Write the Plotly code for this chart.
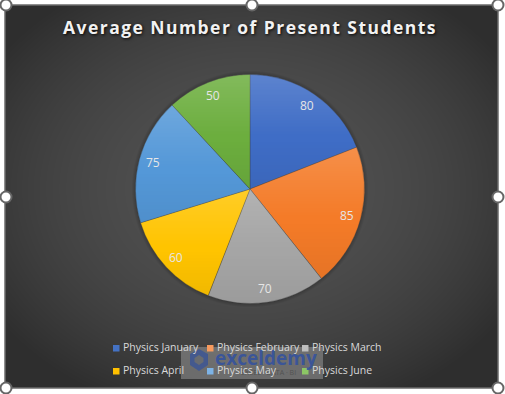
import base64, math, struct, zlib
import numpy as np
import plotly.graph_objects as go

W, H = 505, 394
title = "Average Number of Present Students"
categories = ["Physics January", "Physics February", "Physics March",
              "Physics April", "Physics May", "Physics June"]
values = [80, 85, 70, 60, 75, 50]
colors = ["#3F6DC6", "#F47B28", "#A5A5A5", "#FFC400", "#5498D8", "#6CAE3E"]

CX, CY, R = 250, 189, 114.5
BOX = (5, 5, 498, 388)


def png_uri(rgba):
    h, w, _ = rgba.shape
    raw = b"".join(b"\x00" + rgba[i].tobytes() for i in range(h))
    def chunk(t, d):
        return struct.pack(">I", len(d)) + t + d + struct.pack(">I", zlib.crc32(t + d) & 0xffffffff)
    data = (b"\x89PNG\r\n\x1a\n" + chunk(b"IHDR", struct.pack(">IIBBBBB", w, h, 8, 6, 0, 0, 0))
            + chunk(b"IDAT", zlib.compress(raw)) + chunk(b"IEND", b""))
    return "data:image/png;base64," + base64.b64encode(data).decode()


def background():
    x0, y0, x1, y1 = BOX
    w, h = x1 - x0, y1 - y0
    yy, xx = np.mgrid[0:h, 0:w]
    px_, py_ = xx + x0 + 0.5, yy + y0 + 0.5
    d = np.hypot((px_ - CX) / (w * 0.62), (py_ - CY) / (h * 0.62))
    v = 82 - 36 * np.clip(d, 0, 1) ** 2
    dist = np.hypot(px_ - CX, py_ - CY)
    v = v * (1 - 0.22 * np.clip(1 - (dist - R) / 4, 0, 1))
    out = np.zeros((h, w, 4), dtype=np.uint8)
    out[..., :3] = np.clip(v, 0, 255)[..., None].astype(np.uint8)
    out[..., 3] = 255
    return png_uri(out)


def slice_shading():
    """Per-slice vertical sheen, like the reference's gradient fill."""
    S = 2
    n = int(2 * (R + 2)) * S
    yy, xx = np.mgrid[0:n, 0:n]
    dx = (xx + 0.5) / S - n / (2 * S)
    dy = (yy + 0.5) / S - n / (2 * S)
    r = np.hypot(dx, dy)
    ang = np.mod(np.arctan2(dx, -dy), 2 * np.pi)
    edges = np.cumsum([0] + values) / sum(values) * 2 * np.pi
    out = np.zeros((n, n, 4), dtype=np.uint8)
    for a, b in zip(edges[:-1], edges[1:]):
        th = np.linspace(a, b, 200)
        ys = np.concatenate([[0.0], -np.cos(th) * R])
        top, bot = ys.min(), ys.max()
        mask = (ang >= a) & (ang < b) & (r <= R)
        t = np.clip((dy - top) / (bot - top), 0, 1)
        white = np.clip(0.16 * (1 - t / 0.55), 0, 1)
        black = np.clip(0.06 * (t - 0.55) / 0.45, 0, 1)
        out[..., :3][mask & (t < 0.55)] = 255
        out[..., :3][mask & (t >= 0.55)] = 0
        alpha = np.where(t < 0.55, white, black)
        out[..., 3][mask] = (alpha[mask] * 255).astype(np.uint8)
    return png_uri(out), n / S


def px(x):
    return x / W


def py(y):
    return 1 - y / H


shade_uri, shade_size = slice_shading()

fig = go.Figure(go.Pie(
    labels=categories, values=values, sort=False, direction="clockwise", rotation=0,
    marker=dict(colors=colors, line=dict(color="rgba(60,60,60,0.55)", width=0.6)),
    textinfo="none", showlegend=False, hoverinfo="label+value",
    domain=dict(x=[px(CX - R), px(CX + R)], y=[py(CY + R), py(CY - R)]),
))

images = [
    dict(source=background(), xref="paper", yref="paper", x=px(BOX[0]), y=py(BOX[1]),
         sizex=(BOX[2] - BOX[0]) / W, sizey=(BOX[3] - BOX[1]) / H,
         sizing="stretch", xanchor="left", yanchor="top", layer="below"),
    dict(source=shade_uri, xref="paper", yref="paper", x=px(CX), y=py(CY),
         sizex=shade_size / W, sizey=shade_size / H,
         sizing="stretch", xanchor="center", yanchor="middle", layer="above"),
]

annotations = []
shapes = [dict(type="rect", xref="paper", yref="paper", x0=px(BOX[0]), x1=px(BOX[2]),
               y0=py(BOX[3]), y1=py(BOX[1]), line=dict(color="#6b6b6b", width=1.5),
               fillcolor="rgba(0,0,0,0)", layer="above")]


def note(x, y, text, size, color, **kw):
    annotations.append(dict(xref="paper", yref="paper", x=px(x), y=py(y), text=text,
                            showarrow=False, font=dict(family="Open Sans", size=size, color=color),
                            xanchor=kw.pop("xanchor", "center"), yanchor="middle", **kw))


# watermark (drawn first so the legend sits on it)
shapes.append(dict(type="rect", xref="paper", yref="paper", x0=px(181), x1=px(323),
                   y0=py(379), y1=py(347), fillcolor="rgba(150,150,150,0.55)", line=dict(width=0), layer="above"))
hexa = [(199, 349), (208, 354), (208, 365), (199, 371), (190, 365), (190, 354)]
shapes.append(dict(type="path", xref="paper", yref="paper",
                   path="M" + "L".join(f"{px(a):.5f},{py(b):.5f}" for a, b in hexa) + "Z",
                   fillcolor="rgba(58,84,150,0.8)", line=dict(width=0), layer="above"))
inner = [(199, 355), (203.5, 358), (203.5, 362), (199, 365), (194.5, 362), (194.5, 358)]
shapes.append(dict(type="path", xref="paper", yref="paper",
                   path="M" + "L".join(f"{px(a):.5f},{py(b):.5f}" for a, b in inner) + "Z",
                   fillcolor="rgba(110,110,110,0.9)", line=dict(width=0), layer="above"))
note(213, 358, "<b>exceldemy</b>", 19, "rgba(52,82,158,0.9)", xanchor="left")
note(268, 372, "EXCEL · DATA · BI", 7, "rgba(70,70,70,0.7)")

# data labels, placed from the values
total = sum(values)
cum = 0
for v in values:
    mid = (cum + v / 2) / total * 2 * math.pi
    cum += v
    note(CX + 100.5 * math.sin(mid), CY - 100.5 * math.cos(mid), str(v), 12, "#E6E6E6")

# legend
legend_x = [113, 207, 302]
legend_y = [347, 370]
swatch = ["#4472C4", "#F79A5E", "#BDBDBD", "#FFC000", "#7DB3E6", "#8CC665"]
for i, (name, col) in enumerate(zip(categories, swatch)):
    lx, ly = legend_x[i % 3], legend_y[i // 3]
    shapes.append(dict(type="rect", xref="paper", yref="paper", x0=px(lx), x1=px(lx + 6.5),
                       y0=py(ly + 4.5), y1=py(ly - 2), fillcolor=col, line=dict(width=0), layer="above"))
    note(lx + 7.5, ly - 0.5, name, 10.5, "#D9D9D9", xanchor="left")

# selection handles
for hx, hy in [(6, 5), (252, 5), (498, 5), (6, 197), (498, 197), (6, 388), (252, 388), (498, 388)]:
    shapes.append(dict(type="circle", xref="paper", yref="paper", x0=px(hx - 5.5), x1=px(hx + 5.5),
                       y0=py(hy + 5.5), y1=py(hy - 5.5), fillcolor="white",
                       line=dict(color="#666666", width=2), layer="above"))

fig.update_layout(
    width=W, height=H, autosize=False, margin=dict(l=0, r=0, t=0, b=0),
    paper_bgcolor="white", plot_bgcolor="rgba(0,0,0,0)",
    title=dict(text="<b>" + title + "</b>", x=px(250), y=py(28), xanchor="center", yanchor="middle",
               font=dict(family="Open Sans", size=17.5, color="#F2F2F2",
                         shadow="1px 1px 3px rgba(0,0,0,0.9)")),
    images=images, shapes=shapes, annotations=annotations,
)

post = """
document.body.style.margin = '0';
document.documentElement.style.overflow = 'hidden';
var st = document.createElement('style');
st.textContent = '.gtitle{letter-spacing:1.45px;}';
document.head.appendChild(st);
"""
fig.write_html("out.html", post_script=post, config=dict(displayModeBar=False))
